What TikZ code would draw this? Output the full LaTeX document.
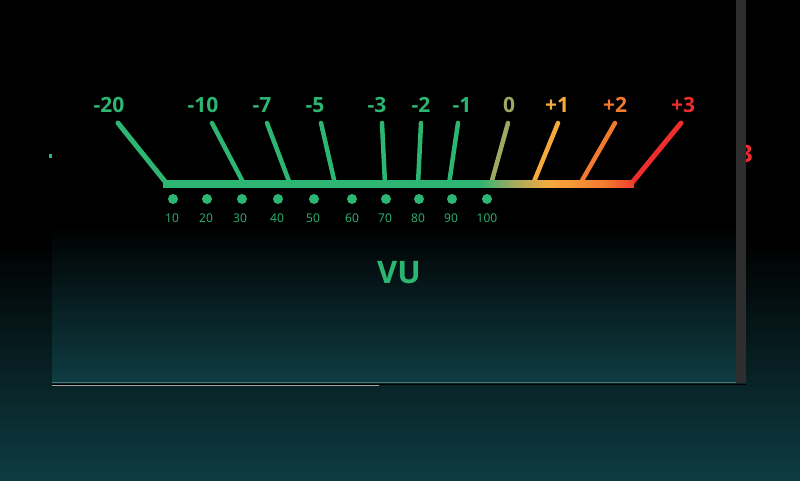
\documentclass[tikz,border=0pt]{standalone}
\usepackage{fontspec}
\setmainfont{Open Sans}
\usepackage{tkz-euclide}
\usetikzlibrary{calc}
\definecolor{GreenClr}{RGB}{44,182,114}
\definecolor{OliveClr}{RGB}{158,170,98}
\definecolor{AmberClr}{RGB}{246,170,60}
\definecolor{OrangeClr}{RGB}{242,122,46}
\definecolor{RedClr}{RGB}{236,46,44}
\definecolor{TealClr}{RGB}{14,60,66}
\definecolor{DuskClr}{RGB}{20,32,36}
\definecolor{PanelMidClr}{RGB}{20,40,44}
\definecolor{RimClr}{RGB}{78,118,118}
\definecolor{BarClr}{RGB}{46,46,46}
\pgfdeclarehorizontalshading{BarShade}{100bp}{color(0bp)=(GreenClr); color(58.5bp)=(GreenClr); color(62bp)=(OliveClr); color(66bp)=(AmberClr); color(72bp)=(OrangeClr); color(75bp)=(RedClr!80!OrangeClr); color(100bp)=(RedClr)}

\begin{document}
\begin{tikzpicture}[x=1pt,y=-1pt,
  scalelbl/.style={font=\bfseries\fontsize{21}{21}\selectfont},
  countlbl/.style={font=\fontsize{12}{12}\selectfont,text=GreenClr},
  unitlbl/.style={font=\bfseries\fontsize{31}{31}\selectfont,text=GreenClr}]
\useasboundingbox (0,0) rectangle (800,480);
\fill[black] (0,0) rectangle (800,480);
\shade[top color=black,middle color=DuskClr,bottom color=TealClr] (0,240) rectangle (800,480);
\fill[black] (52,0) rectangle (736,383);
\shade[top color=black,middle color=PanelMidClr,bottom color=TealClr] (52,225) rectangle (736,382);

\tkzDefPoints{118/123/T1,212/123/T2,267/123/T3,321/123/T4,382/123/T5,421/123/T6,458/123/T7,508/123/T8,558/123/T9,615/123/T10,681/123/T11}
\tkzDefPoints{167/184/B1,244/184/B2,290/184/B3,335/184/B4,385/184/B5,418/184/B6,449/184/B7,491/184/B8,533/184/B9,580/184/B10,631/184/B11}

\tkzDrawSegments[line width=5pt,color=GreenClr](T1,B1)
\tkzDrawSegments[line width=4.5pt,color=GreenClr](T2,B2 T3,B3 T4,B4 T5,B5 T6,B6 T7,B7)
\tkzDrawSegments[line width=4.5pt,color=OliveClr](T8,B8)
\tkzDrawSegments[line width=4.5pt,color=AmberClr](T9,B9)
\tkzDrawSegments[line width=4.5pt,color=OrangeClr](T10,B10)
\tkzDrawSegments[line width=5pt,color=RedClr](T11,B11)
\shade[shading=BarShade] (163,180.5) rectangle (634,187.5);

\node[scalelbl,text=GreenClr] (m20) at (109,105) {-20};
\node[scalelbl,text=GreenClr] (m10) at (203,105) {-10};
\node[scalelbl,text=GreenClr] (m7) at (262,105) {-7};
\node[scalelbl,text=GreenClr] (m5) at (315,105) {-5};
\node[scalelbl,text=GreenClr] (m3) at (377,105) {-3};
\node[scalelbl,text=GreenClr] (m2) at (421,105) {-2};
\node[scalelbl,text=GreenClr] (m1) at (462,105) {-1};
\node[scalelbl,text=OliveClr] (z0) at (509,105) {0};
\node[scalelbl,text=AmberClr] (p1) at (557,105) {+1};
\node[scalelbl,text=OrangeClr] (p2) at (615,105) {+2};
\node[scalelbl,text=RedClr] (p3) at (683,105) {+3};

\fill[GreenClr] (173,199) circle (5);
\fill[GreenClr] (207,199) circle (5);
\fill[GreenClr] (242,199) circle (5);
\fill[GreenClr] (278,199) circle (5);
\fill[GreenClr] (314,199) circle (5);
\fill[GreenClr] (352,199) circle (5);
\fill[GreenClr] (386,199) circle (5);
\fill[GreenClr] (419,199) circle (5);
\fill[GreenClr] (452,199) circle (5);
\fill[GreenClr] (487,199) circle (5);

\node[countlbl] (c10) at (172,218) {10};
\node[countlbl] (c20) at (206,218) {20};
\node[countlbl] (c30) at (240,218) {30};
\node[countlbl] (c40) at (277,218) {40};
\node[countlbl] (c50) at (313,218) {50};
\node[countlbl] (c60) at (352,218) {60};
\node[countlbl] (c70) at (385,218) {70};
\node[countlbl] (c80) at (418,218) {80};
\node[countlbl] (c90) at (451,218) {90};
\node[countlbl] (c100) at (487,218) {100};

\node[unitlbl] (vu) at (399,272.5) {VU};

\fill[GreenClr] (49,154) rectangle (51.5,157.5);
\node[scalelbl,text=RedClr,font=\bfseries\fontsize{24}{24}\selectfont,anchor=east,inner sep=0pt] (ghost) at (753,154) {3};
\fill[BarClr] (736,0) rectangle (746,383);

\draw[line width=1.6pt,RimClr] (52,382.3) -- (736,382.3);
\draw[line width=1pt,black] (52,384) -- (746,384);
\draw[line width=0.8pt,gray!70] (52,385.3) -- (379,385.3);
\end{tikzpicture}
\end{document}
